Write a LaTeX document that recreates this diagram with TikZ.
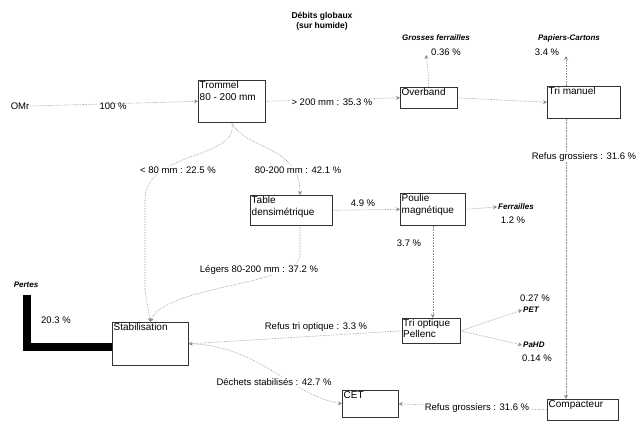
\documentclass[tikz,border=0pt]{standalone}
\usepackage{fontspec}
\setmainfont{Liberation Sans}
\usetikzlibrary{arrows.meta}
\pgfdeclarelayer{bg}
\pgfsetlayers{bg,main}
\begin{document}
\begin{tikzpicture}[x=1pt,y=-1pt,
  font=\fontsize{9.5}{11}\selectfont,
  box/.style={draw=black!80, line width=0.6pt, anchor=north west, inner sep=0pt},
  boxtext/.style={anchor=north west, inner sep=1.5pt, align=left, font=\fontsize{10}{11.5}\selectfont},
  lbl/.style={inner sep=1pt},
  cat/.style={inner sep=1pt, font=\fontsize{8}{9}\selectfont\bfseries\itshape},
  flow/.style={draw=black!45, line width=0.6pt, densely dotted, -{Stealth[length=4pt,width=4pt]}},
  plain/.style={draw=black!45, line width=0.6pt, densely dotted}
]
\useasboundingbox (0,0) rectangle (642,429);

% boxes
\node[box, minimum width=67pt, minimum height=42pt] (trommel) at (198,80) {};
\node[boxtext] (trommelt) at (trommel.north west) {Trommel\\80 - 200 mm};
\node[box, minimum width=57pt, minimum height=21pt] (overband) at (400,87) {};
\node[boxtext] (overbandt) at (overband.north west) {Overband};
\node[box, minimum width=73pt, minimum height=32pt] (trimanuel) at (547,86) {};
\node[boxtext] (trimanuelt) at (trimanuel.north west) {Tri manuel};
\node[box, minimum width=82pt, minimum height=30pt] (table) at (250,195) {};
\node[boxtext] (tablet) at (table.north west) {Table\\densimétrique};
\node[box, minimum width=65pt, minimum height=32pt] (poulie) at (400,193) {};
\node[boxtext] (pouliet) at (poulie.north west) {Poulie\\magnétique};
\node[box, minimum width=58pt, minimum height=25pt] (trioptique) at (402,318) {};
\node[boxtext, inner sep=1pt] (trioptiquet) at (trioptique.north west) {Tri optique\\Pellenc};
\node[box, minimum width=76pt, minimum height=43pt] (stab) at (112,322) {};
\node[boxtext] (stabt) at (stab.north west) {Stabilisation};
\node[box, minimum width=56pt, minimum height=27pt] (cet) at (342,390) {};
\node[boxtext] (cett) at (cet.north west) {CET};
\node[box, minimum width=71pt, minimum height=21pt] (compacteur) at (547,399) {};
\node[boxtext] (compacteurt) at (compacteur.north west) {Compacteur};

% free labels
\node[lbl, align=center, font=\fontsize{8.5}{10}\selectfont\bfseries] (debits) at (322,21) {Débits globaux\\(sur humide)};
\node[lbl] (omr) at (20,106) {OMr};
\node[lbl] (p100) at (113,106) {100 \%};
\node[cat] (grosses) at (436,38) {Grosses ferrailles};
\node[lbl] (p036) at (446,52) {0.36 \%};
\node[cat] (papiers) at (569,38) {Papiers-Cartons};
\node[lbl] (p34) at (547,52) {3.4 \%};
\node[lbl, fill=white] (l353) at (332,102) {> 200 mm : 35.3 \%};
\node[lbl, fill=white] (l225) at (178,170) {< 80 mm : 22.5 \%};
\node[lbl, fill=white] (l421) at (298,170) {80-200 mm : 42.1 \%};
\node[lbl] (l49) at (363,203) {4.9 \%};
\node[cat, anchor=west] (ferr) at (497,207) {Ferrailles};
\node[lbl] (p12) at (513,220) {1.2 \%};
\node[lbl] (l37) at (409,243) {3.7 \%};
\node[lbl, fill=white] (l372) at (259,270) {Légers 80-200 mm : 37.2 \%};
\node[cat] (pertes) at (26,285) {Pertes};
\node[lbl] (p203) at (56,320) {20.3 \%};
\node[lbl, fill=white] (l33) at (316,327) {Refus tri optique : 3.3 \%};
\node[lbl] (p027) at (535,298) {0.27 \%};
\node[cat, anchor=west] (pet) at (522,310) {PET};
\node[cat, anchor=west] (pahd) at (522,345) {PaHD};
\node[lbl] (p014) at (537,358) {0.14 \%};
\node[lbl, fill=white] (l427) at (274,382) {Déchets stabilisés : 42.7 \%};
\node[lbl, fill=white] (l316b) at (477,408) {Refus grossiers : 31.6 \%};
\node[lbl, fill=white] (l316) at (584,157) {Refus grossiers : 31.6 \%};

% connectors
\coordinate (c036) at (426,55);
\coordinate (c34) at (566,56);
\coordinate (cleft) at (145,290);
\coordinate (cpertes) at (27,295);
\coordinate (cbar) at (112,347);
\coordinate (cbarc) at (27,347);

\begin{pgfonlayer}{bg}
\draw[flow] (omr.east) -- (trommel.west);
\draw[flow] (trommel.east) -- (overband.west);
\draw[flow] (overband.east) -- (trimanuel.west);
\draw[flow] (trimanuel.north -| c34) -- (c34);
\draw[flow] (overband.north) .. controls (428,70) .. (c036);
\draw[flow] (trommel.south) .. controls (245,150) and (300,145) .. (table.north -| 300,0);
\draw[plain] (trommel.south) .. controls (240,160) and (145,150) .. (145,200) -- (cleft);
\draw[flow] (cleft) -- (stab.north);
\draw[flow] (table.south -| 300,0) -- (300,255) .. controls (300,285) and (165,285) .. (stab.north);
\draw[flow] (table.east) -- (poulie.west);
\draw[flow] (poulie.east) -- (ferr.west);
\draw[flow] (poulie.south) -- (trioptique.north -| poulie.south);
\draw[flow] (trioptique.west) -- (stab.east);
\draw[flow] (trioptique.east) -- (pet.west);
\draw[flow] (trioptique.east) -- (pahd.west);
\draw[flow] (stab.east) .. controls (260,345) and (290,395) .. (cet.west);
\draw[flow] (trimanuel.south -| c34) -- (compacteur.north -| c34);
\draw[flow] (compacteur.west) -- (cet.east);
\end{pgfonlayer}

% pertes bar
\draw[line width=8pt, black] (cbar) -- (cbarc) -- (cpertes);
\end{tikzpicture}
\end{document}
